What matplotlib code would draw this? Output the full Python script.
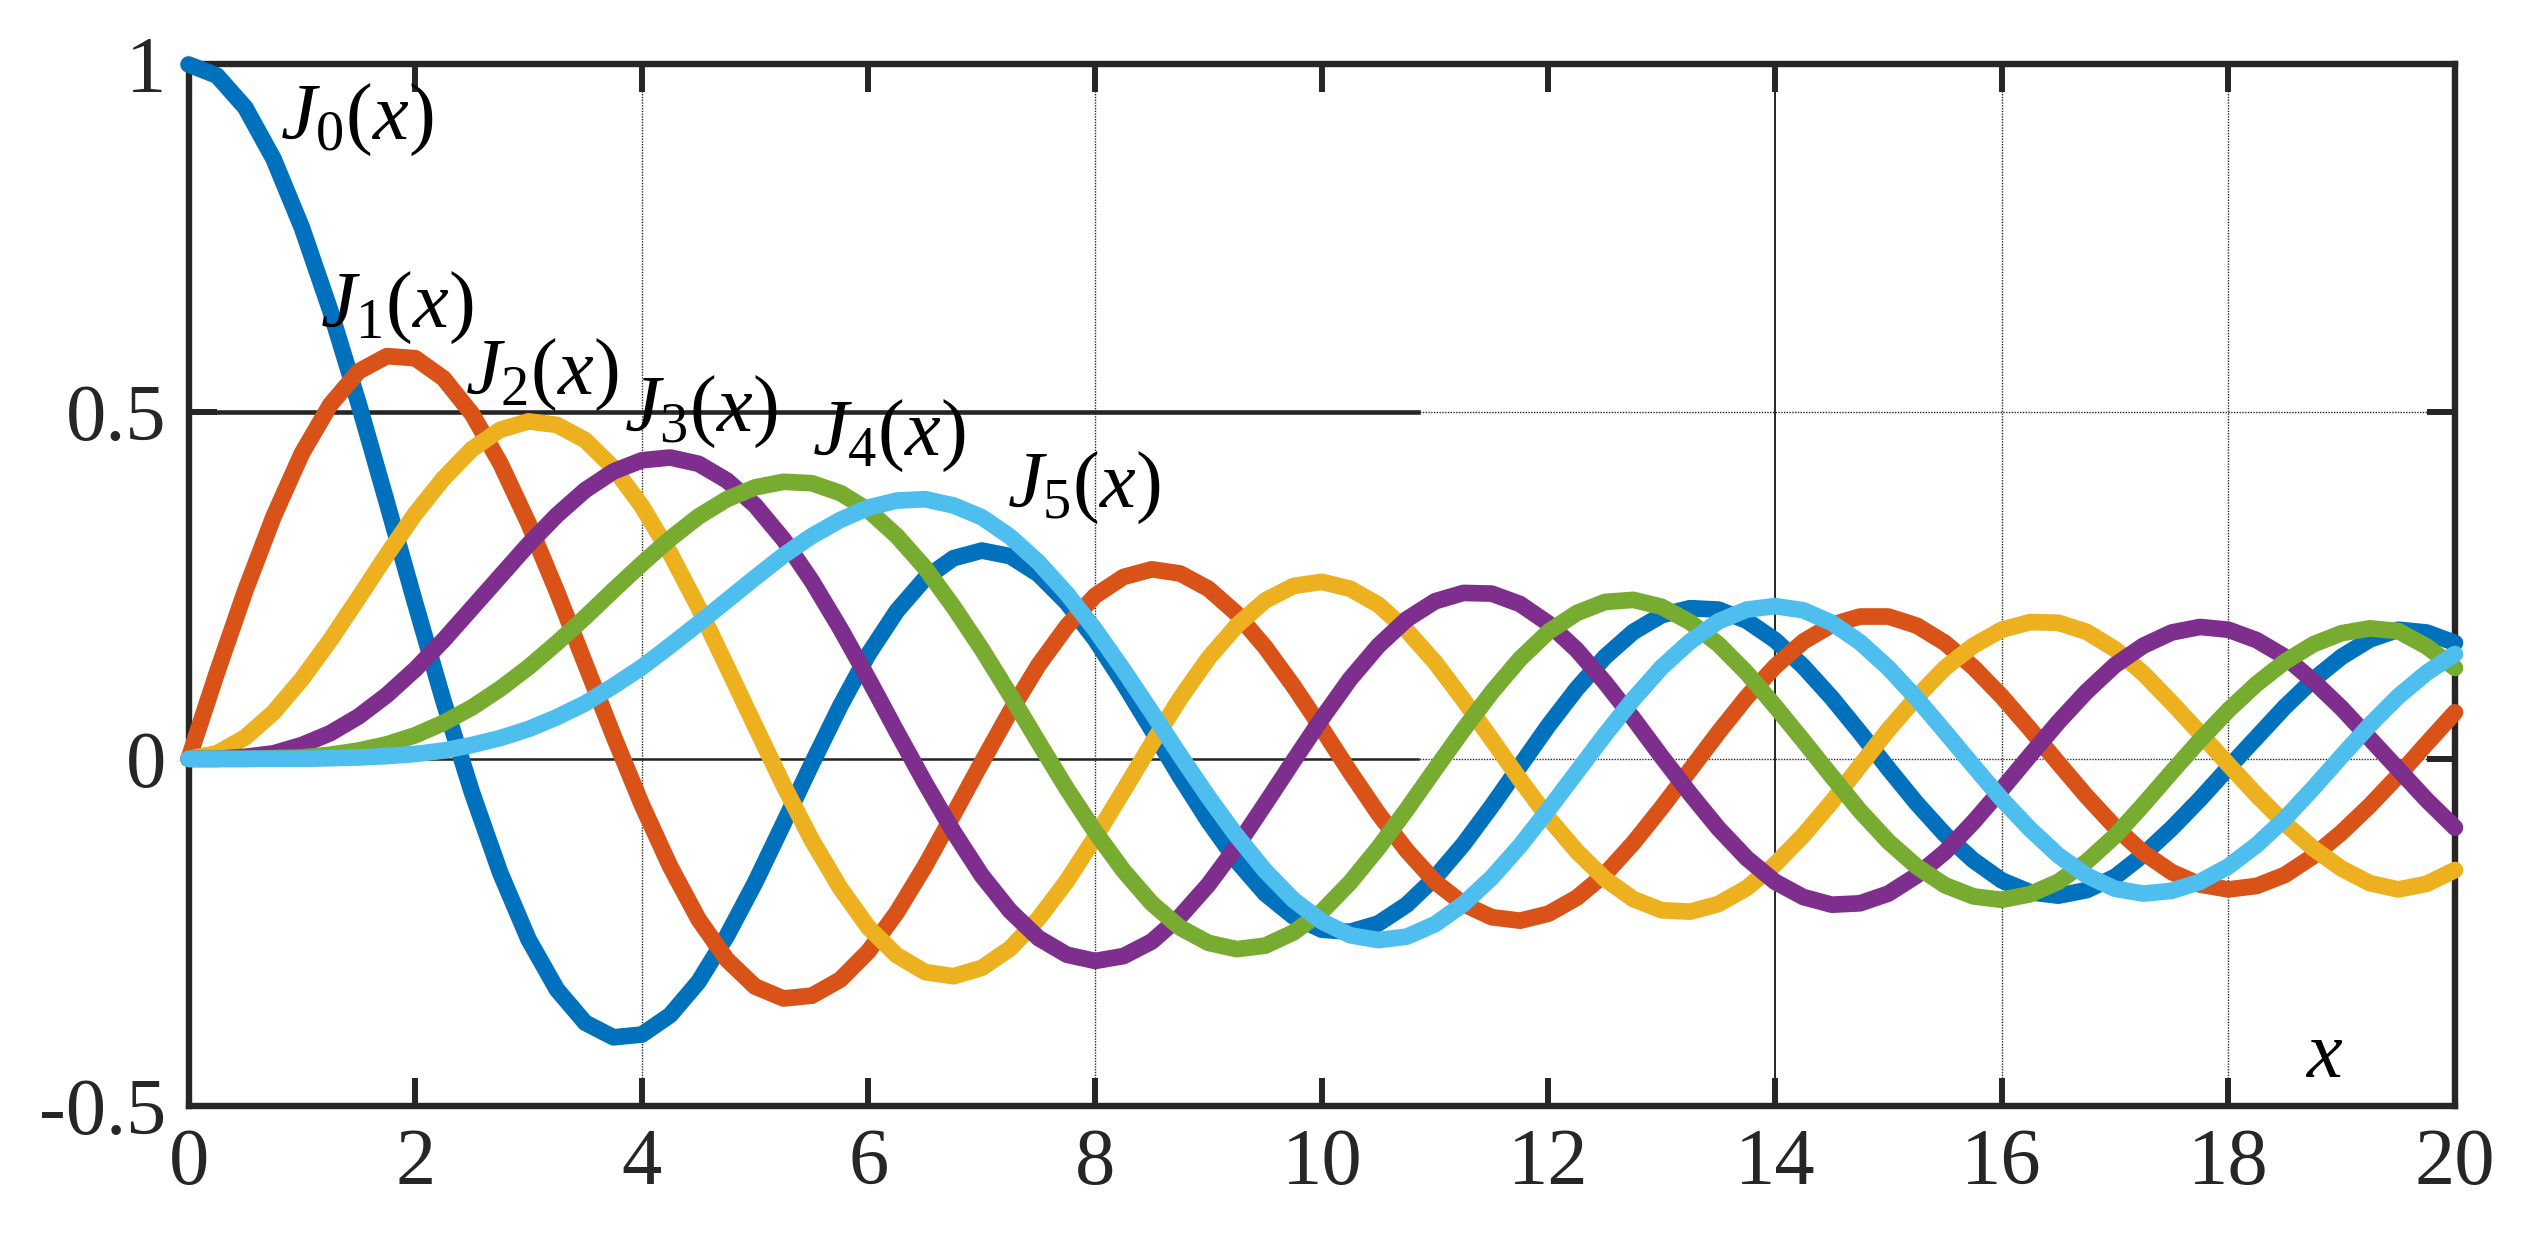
import numpy as np
import matplotlib
matplotlib.use("Agg")
import matplotlib.pyplot as plt

x = np.linspace(0, 20, 81)

J0 = [1.000, 0.984, 0.938, 0.864, 0.765, 0.646, 0.512, 0.369, 0.224, 0.083,
      -0.048, -0.164, -0.260, -0.332, -0.380, -0.401, -0.397, -0.369, -0.321, -0.255,
      -0.178, -0.093, -0.007, 0.076, 0.151, 0.213, 0.260, 0.289, 0.300, 0.292,
      0.266, 0.225, 0.172, 0.109, 0.042, -0.026, -0.090, -0.147, -0.194, -0.227,
      -0.246, -0.249, -0.237, -0.210, -0.171, -0.123, -0.068, -0.010, 0.048, 0.101,
      0.147, 0.183, 0.207, 0.217, 0.215, 0.199, 0.171, 0.133, 0.088, 0.038,
      -0.014, -0.064, -0.109, -0.146, -0.175, -0.192, -0.197, -0.189, -0.170, -0.138,
      -0.100, -0.058, -0.013, 0.031, 0.075, 0.114, 0.147, 0.172, 0.186, 0.182,
      0.167]
J1 = [0.000, 0.124, 0.242, 0.349, 0.440, 0.510, 0.558, 0.580, 0.577, 0.548,
      0.497, 0.426, 0.339, 0.241, 0.137, 0.033, -0.066, -0.155, -0.231, -0.289,
      -0.328, -0.345, -0.341, -0.318, -0.277, -0.221, -0.154, -0.080, -0.005, 0.068,
      0.135, 0.191, 0.235, 0.262, 0.273, 0.267, 0.245, 0.209, 0.161, 0.105,
      0.044, -0.019, -0.079, -0.132, -0.177, -0.209, -0.228, -0.233, -0.223, -0.200,
      -0.166, -0.121, -0.070, -0.016, 0.038, 0.089, 0.133, 0.169, 0.193, 0.205,
      0.205, 0.192, 0.167, 0.132, 0.090, 0.043, -0.006, -0.054, -0.098, -0.135,
      -0.163, -0.181, -0.188, -0.183, -0.167, -0.140, -0.106, -0.067, -0.024, 0.022,
      0.067]
J2 = [0.000, 0.008, 0.031, 0.067, 0.115, 0.171, 0.232, 0.294, 0.353, 0.404,
      0.446, 0.474, 0.486, 0.481, 0.459, 0.419, 0.364, 0.296, 0.218, 0.133,
      0.047, -0.038, -0.117, -0.186, -0.243, -0.283, -0.307, -0.313, -0.301, -0.273,
      -0.230, -0.176, -0.113, -0.046, 0.022, 0.087, 0.145, 0.192, 0.228, 0.249,
      0.255, 0.245, 0.222, 0.185, 0.139, 0.085, 0.028, -0.030, -0.085, -0.133,
      -0.173, -0.202, -0.218, -0.220, -0.209, -0.186, -0.152, -0.110, -0.062, -0.010,
      0.042, 0.089, 0.131, 0.163, 0.186, 0.197, 0.196, 0.183, 0.158, 0.123,
      0.081, 0.037, -0.008, -0.052, -0.093, -0.129, -0.158, -0.179, -0.188, -0.180,
      -0.160]
J3 = [0.000, 0.000, 0.003, 0.008, 0.020, 0.037, 0.061, 0.092, 0.129, 0.171,
      0.217, 0.263, 0.309, 0.351, 0.387, 0.414, 0.430, 0.434, 0.425, 0.401,
      0.365, 0.316, 0.256, 0.188, 0.115, 0.039, -0.035, -0.105, -0.168, -0.219,
      -0.258, -0.282, -0.291, -0.284, -0.263, -0.227, -0.181, -0.126, -0.065, -0.003,
      0.058, 0.115, 0.163, 0.201, 0.227, 0.239, 0.238, 0.223, 0.195, 0.157,
      0.110, 0.058, 0.003, -0.050, -0.100, -0.143, -0.177, -0.199, -0.210, -0.208,
      -0.194, -0.168, -0.134, -0.091, -0.044, 0.005, 0.053, 0.097, 0.135, 0.163,
      0.182, 0.190, 0.186, 0.171, 0.147, 0.112, 0.073, 0.029, -0.015, -0.059,
      -0.099]
J4 = [0.000, 0.000, 0.000, 0.001, 0.002, 0.006, 0.012, 0.021, 0.034, 0.052,
      0.074, 0.101, 0.132, 0.167, 0.204, 0.243, 0.281, 0.317, 0.349, 0.374,
      0.391, 0.399, 0.397, 0.383, 0.358, 0.321, 0.275, 0.219, 0.158, 0.092,
      0.024, -0.043, -0.105, -0.161, -0.208, -0.243, -0.265, -0.274, -0.269, -0.250,
      -0.220, -0.178, -0.128, -0.073, -0.015, 0.042, 0.096, 0.144, 0.183, 0.210,
      0.226, 0.229, 0.219, 0.197, 0.165, 0.124, 0.076, 0.026, -0.025, -0.075,
      -0.119, -0.155, -0.182, -0.198, -0.203, -0.195, -0.177, -0.148, -0.111, -0.066,
      -0.019, 0.027, 0.070, 0.108, 0.140, 0.165, 0.181, 0.188, 0.184, 0.162,
      0.131]
J5 = [0.000, 0.000, 0.000, 0.000, 0.000, 0.001, 0.002, 0.004, 0.007, 0.012,
      0.020, 0.030, 0.043, 0.060, 0.080, 0.105, 0.132, 0.163, 0.195, 0.228,
      0.261, 0.293, 0.321, 0.344, 0.362, 0.372, 0.374, 0.365, 0.348, 0.320,
      0.283, 0.238, 0.186, 0.128, 0.067, 0.005, -0.055, -0.111, -0.161, -0.203,
      -0.234, -0.254, -0.261, -0.256, -0.238, -0.209, -0.171, -0.125, -0.073, -0.019,
      0.035, 0.086, 0.132, 0.169, 0.198, 0.215, 0.220, 0.214, 0.196, 0.168,
      0.131, 0.087, 0.039, -0.010, -0.058, -0.101, -0.139, -0.168, -0.187, -0.194,
      -0.190, -0.177, -0.155, -0.124, -0.086, -0.042, 0.004, 0.049, 0.090, 0.124,
      0.151]

series = [J0, J1, J2, J3, J4, J5]
labels = [r"$J_0(x)$", r"$J_1(x)$", r"$J_2(x)$", r"$J_3(x)$", r"$J_4(x)$", r"$J_5(x)$"]
label_pos = [(1.48, 0.92), (1.84, 0.65), (3.12, 0.553), (4.52, 0.50), (6.18, 0.465), (7.9, 0.39)]
colors = ["#0072BD", "#D95319", "#EDB120", "#7E2F8E", "#77AC30", "#4DBEEE"]

xticks = [0, 2, 4, 6, 8, 10, 12, 14, 16, 18, 20]
yticks = [-0.5, 0, 0.5, 1]
ytick_labels = ["-0.5", "0", "0.5", "1"]

plt.rcParams["font.family"] = ["Liberation Serif", "DejaVu Serif"]
plt.rcParams["mathtext.fontset"] = "custom"
plt.rcParams["mathtext.rm"] = "Liberation Serif"
plt.rcParams["mathtext.it"] = "Liberation Serif:italic"
plt.rcParams["axes.unicode_minus"] = False

dark = "#262626"
fig = plt.figure(figsize=(25.28, 12.4), dpi=100)
ax = fig.add_axes([0.0746, 0.108, 0.8965, 0.840])

# grid, as it came out in the original export: dotted, with a few solid pieces
for gx in [4, 8, 16, 18]:
    ax.axvline(gx, color=dark, lw=1.0, ls=(0, (1, 1)), zorder=0)
ax.axvline(14, color=dark, lw=1.4, zorder=0)
for gy in [0, 0.5]:
    ax.axhline(gy, color=dark, lw=1.0, ls=(0, (1, 1)), zorder=0)
ax.plot([0, 10.85], [0.5, 0.5], color=dark, lw=3.3, zorder=0)
ax.plot([0, 10.85], [0, 0], color=dark, lw=1.8, zorder=0)

for ys, c in zip(series, colors):
    ax.plot(x, ys, color=c, lw=12, solid_capstyle="round", solid_joinstyle="round",
            clip_on=False, zorder=3)

for lab, (lx, ly) in zip(labels, label_pos):
    ax.text(lx, ly, lab, fontsize=58, ha="center", va="center", color="black", zorder=4)
ax.text(18.85, -0.43, r"$x$", fontsize=58, ha="center", va="center", color="black")

ax.set_xlim(0, 20)
ax.set_ylim(-0.5, 1)
ax.set_xticks(xticks)
ax.set_yticks(yticks)
ax.set_yticklabels(ytick_labels)
ax.tick_params(direction="in", length=20, width=4.3, top=True, right=True,
               labelsize=58, pad=16, colors=dark)
for sp in ax.spines.values():
    sp.set_linewidth(4.6)
    sp.set_color(dark)

fig.savefig("out.png", dpi=100)
